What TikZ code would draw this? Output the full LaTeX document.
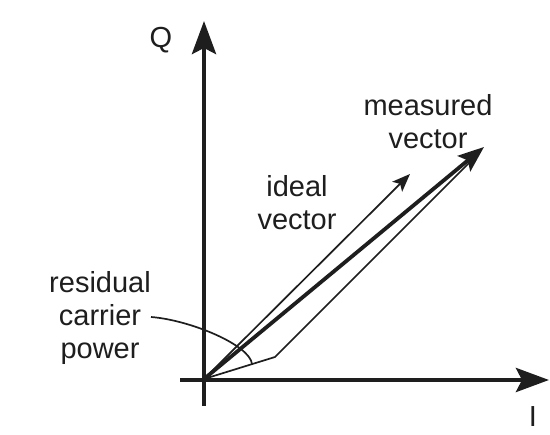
\documentclass[tikz,border=0pt]{standalone}
\usepackage{fontspec}
\setmainfont{Liberation Sans}
\usetikzlibrary{arrows.meta}
\definecolor{ink}{RGB}{30,30,30}
\begin{document}
\begin{tikzpicture}[x=1pt,y=-1pt,
  axis/.style={ink,line width=4.5pt,-{Stealth[length=33pt,width=24pt,inset=6pt]}},
  meas/.style={ink,line width=3.8pt,-{Stealth[length=26pt,width=20pt,inset=5pt]}},
  thin/.style={ink,line width=1.7pt},
  idealv/.style={ink,line width=1.7pt,-{Stealth[length=18pt,width=14pt,inset=4pt]}},
  lbl/.style={text=ink,font=\fontsize{29}{33}\selectfont,align=center,inner sep=0pt}]
\useasboundingbox (0,0) rectangle (550,435);
\coordinate (O) at (204,379);
\coordinate (Ybot) at (204,406);
\coordinate (Ytop) at (204,21);
\coordinate (Xl) at (180,380);
\coordinate (Xr) at (549,380);
\coordinate (R) at (275,357);
\coordinate (Mtip) at (484,147);
\coordinate (Itip) at (410,174);
\coordinate (Rend) at (480,152);
\coordinate (Cend) at (252,364);
\draw[axis] (Ybot) -- (Ytop);
\draw[axis] (Xl) -- (Xr);
\draw[thin] (O) -- (R) -- (Rend);
\draw[idealv] (O) -- (Itip);
\draw[meas] (O) -- (Mtip);
\node[lbl] (Q) at (161,40) {Q};
\node[lbl] (I) at (533,417) {I};
\node[lbl] (meas) at (428,122) {measured\\vector};
\node[lbl] (ideal) at (297,203) {ideal\\vector};
\node[lbl] (resid) at (100,318) {residual\\carrier\\power};
\coordinate (Cstart) at (151,317);
\draw[thin] (Cstart) .. controls (190,320) and (250,345) .. (Cend);
\end{tikzpicture}
\end{document}
